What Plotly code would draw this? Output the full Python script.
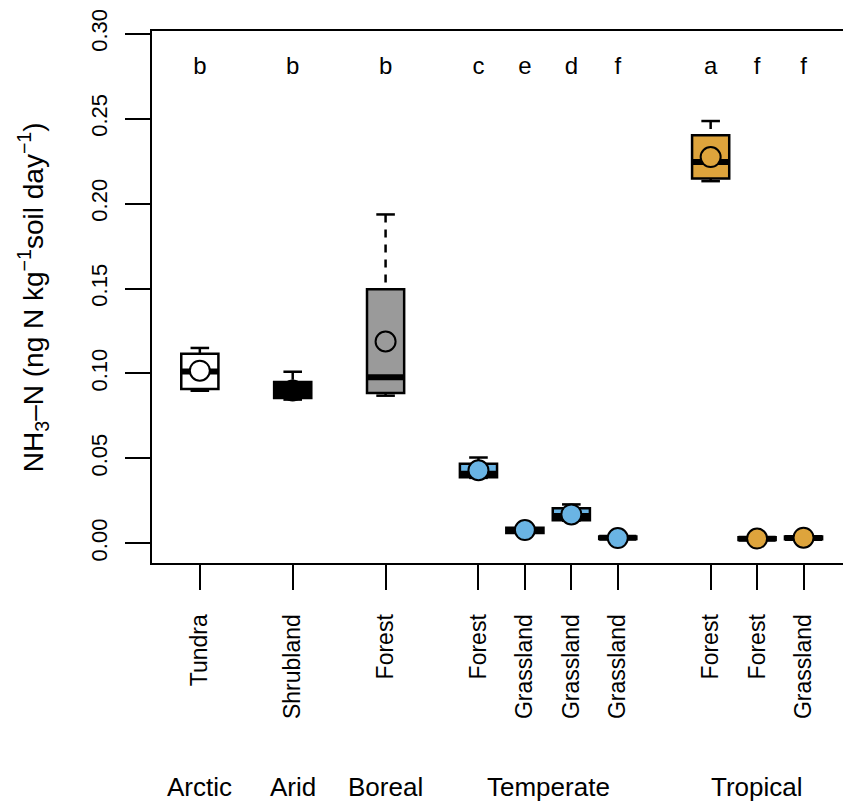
import plotly.graph_objects as go

# ---- data ----
positions = [1, 3, 5, 7, 8, 9, 10, 12, 13, 14]
categories = ["Tundra", "Shrubland", "Forest", "Forest", "Grassland",
              "Grassland", "Grassland", "Forest", "Forest", "Grassland"]
biomes = ["Arctic", "Arid", "Boreal", "Temperate", "Tropical"]
biome_centers = [1, 3, 5, 8.5, 13]
letters = ["b", "b", "b", "c", "e", "d", "f", "a", "f", "f"]

upper = [0.1150, 0.1010, 0.1936, 0.0505, 0.0098, 0.0229, 0.0045, 0.2486, 0.0040, 0.0045]
q3 = [0.1116, 0.0949, 0.1496, 0.0468, 0.0092, 0.0206, 0.0040, 0.2402, 0.0036, 0.0040]
median = [0.1012, 0.0900, 0.0977, 0.0410, 0.0075, 0.0160, 0.0032, 0.2245, 0.0027, 0.0031]
q1 = [0.0908, 0.0855, 0.0885, 0.0389, 0.0060, 0.0135, 0.0025, 0.2147, 0.0020, 0.0024]
lower = [0.0898, 0.0846, 0.0869, 0.0385, 0.0055, 0.0133, 0.0020, 0.2132, 0.0016, 0.0020]
means = [0.1016, 0.0900, 0.1188, 0.0430, 0.0078, 0.0170, 0.0031, 0.2274, 0.0028, 0.0033]

y_ticks = [0.00, 0.05, 0.10, 0.15, 0.20, 0.25, 0.30]
letter_y = 0.28

# ---- styles ----
BLUE = "#6AB4E4"
ORANGE = "#DEA43C"
fills = ["#FFFFFF", "#000000", "#9A9A9A", BLUE, BLUE, BLUE, BLUE, ORANGE, ORANGE, ORANGE]
FONT = "Liberation Sans, Arial, Helvetica, sans-serif"
BOXW = 0.8
CAPW = 0.4

fig = go.Figure()

# whiskers (dashed)
wx, wy = [], []
for p, u, a, b, l in zip(positions, upper, q3, q1, lower):
    wx += [p, p, None, p, p, None]
    wy += [u, a, None, l, b, None]
fig.add_trace(go.Scatter(x=wx, y=wy, mode="lines",
                         line=dict(color="black", width=2.5, dash="8px,7px"),
                         hoverinfo="skip", showlegend=False))

# caps
cx, cy = [], []
for p, u, l in zip(positions, upper, lower):
    cx += [p - CAPW / 2, p + CAPW / 2, None, p - CAPW / 2, p + CAPW / 2, None]
    cy += [u, u, None, l, l, None]
fig.add_trace(go.Scatter(x=cx, y=cy, mode="lines",
                         line=dict(color="black", width=2.5),
                         hoverinfo="skip", showlegend=False))

# boxes
for i, p in enumerate(positions):
    fig.add_trace(go.Box(x=[p], q1=[q1[i]], median=[median[i]], q3=[q3[i]],
                         lowerfence=[q1[i]], upperfence=[q3[i]],
                         width=BOXW, whiskerwidth=0,
                         fillcolor=fills[i], line=dict(color="black", width=2.5),
                         boxpoints=False, showlegend=False, hoverinfo="skip"))

# thick medians
mx, my = [], []
for p, m in zip(positions, median):
    mx += [p - BOXW / 2, p + BOXW / 2, None]
    my += [m, m, None]
fig.add_trace(go.Scatter(x=mx, y=my, mode="lines",
                         line=dict(color="black", width=6),
                         hoverinfo="skip", showlegend=False))

# means
fig.add_trace(go.Scatter(x=positions, y=means, mode="markers",
                         marker=dict(size=20, color=fills,
                                     line=dict(color="black", width=2)),
                         hoverinfo="skip", showlegend=False))

# significance letters
fig.add_trace(go.Scatter(x=positions, y=[letter_y] * len(positions), mode="text",
                         text=letters, textposition="middle center",
                         textfont=dict(family=FONT, size=24, color="black"),
                         hoverinfo="skip", showlegend=False))

# biome labels
for b, c in zip(biomes, biome_centers):
    fig.add_annotation(x=c, xref="x", y=-0.421, yref="paper", text=b,
                       showarrow=False, xanchor="center", yanchor="middle",
                       font=dict(family=FONT, size=26, color="black"))

# y title
fig.add_annotation(x=-0.172, xref="paper", y=0.5, yref="paper",
                   text="NH<sub>3</sub>–N (ng N kg<sup>−1</sup>soil day<sup>−1</sup>)",
                   textangle=-90, showarrow=False, xanchor="center", yanchor="middle",
                   font=dict(family=FONT, size=28, color="black"))

fig.update_layout(
    width=843, height=805,
    margin=dict(l=152, r=0, t=31, b=242),
    paper_bgcolor="white", plot_bgcolor="white",
    boxmode="overlay",
    showlegend=False,
    font=dict(family=FONT, color="black"),
    xaxis=dict(range=[-0.03, 14.85], showgrid=False, zeroline=False, automargin=False,
               showline=True, linecolor="black", linewidth=2, mirror=True,
               ticks="outside", ticklen=25, tickwidth=2, tickcolor="black",
               tickmode="array", tickvals=positions, ticktext=categories,
               tickangle=-90, ticklabelstandoff=15,
               tickfont=dict(family=FONT, size=23, color="black")),
    yaxis=dict(range=[-0.0116, 0.3016], showgrid=False, zeroline=False, automargin=False,
               showline=True, linecolor="black", linewidth=2, mirror=False,
               ticks="outside", ticklen=25, tickwidth=2, tickcolor="black",
               tickmode="array", tickvals=y_ticks,
               ticktext=[f"{v:.2f}" for v in y_ticks],
               tickangle=-90, ticklabelstandoff=9,
               tickfont=dict(family=FONT, size=22, color="black")),
)

fig.write_html("out.html", config={"displayModeBar": False},
               post_script="document.body.style.margin='0';document.body.style.padding='0';")
